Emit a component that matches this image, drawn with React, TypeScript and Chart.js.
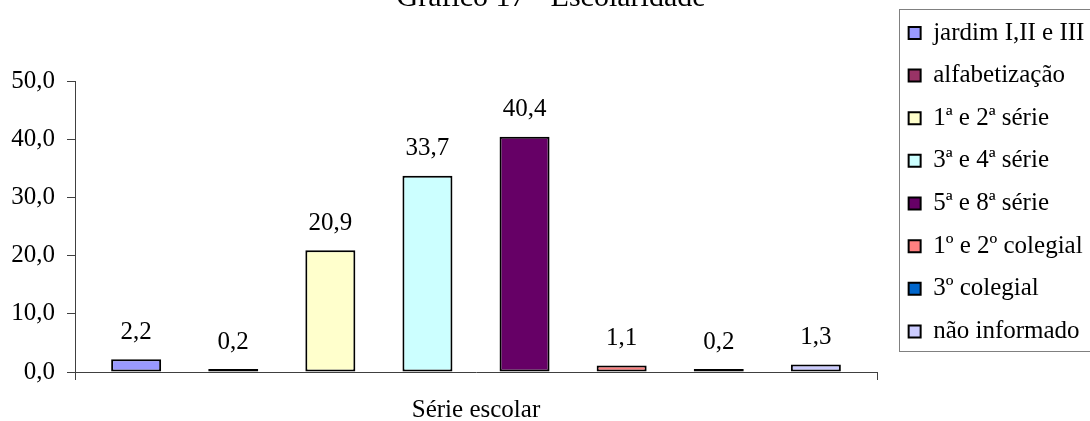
import { useEffect, useRef } from 'react';
import { Chart, registerables } from 'chart.js';

Chart.register(...registerables);

// Schooling levels (one bar per level) and their share in percent
const axisCategories = ['Série escolar'];
const levelLabels = [
  'jardim I,II e III',
  'alfabetização',
  '1ª e 2ª série',
  '3ª e 4ª série',
  '5ª e 8ª série',
  '1º e 2º colegial',
  '3º colegial',
  'não informado',
];
const levelPercent = [2.2, 0.2, 20.9, 33.7, 40.4, 1.1, 0.2, 1.3];
const levelColors = [
  '#9999FF',
  '#993366',
  '#FFFFCC',
  '#CCFFFF',
  '#660066',
  '#FF8080',
  '#0066CC',
  '#CCCCFF',
];
const yMin = 0;
const yMax = 50;
const yStep = 10;
const chartTitle = 'Gráfico 17 - Escolaridade';

const SERIF = '"Liberation Serif", "Times New Roman", serif';
const AXIS_GRAY = '#404040';
const fmt = (v: number) => v.toFixed(1).replace('.', ',');

// Puts the title and the legend where the page layout wants them
const placeBoxes = {
  id: 'placeBoxes',
  afterLayout(chart: any) {
    const t = chart.titleBlock;
    if (t) {
      t.left = 12;
      t.right = 1090;
      t.width = t.right - t.left;
    }
    const lg = chart.legend;
    if (lg) {
      lg.left = 891;
      lg.top = 22.8;
      lg.right = 1200;
      lg.bottom = 440;
      lg.width = lg.right - lg.left;
      lg.height = lg.bottom - lg.top;
    }
  },
  afterDraw(chart: any) {
    const lg = chart.legend;
    if (!lg) return;
    const ctx = chart.ctx;
    ctx.save();
    ctx.strokeStyle = '#808080';
    ctx.lineWidth = 1;
    ctx.strokeRect(Math.round(lg.left + 8) + 0.5, Math.round(lg.top + 6) + 0.5, 400, 342);
    ctx.restore();
  },
};

// Value printed above every bar
const valueLabels = {
  id: 'valueLabels',
  afterDatasetsDraw(chart: any) {
    const ctx = chart.ctx;
    ctx.save();
    ctx.font = `25px ${SERIF}`;
    ctx.fillStyle = '#000';
    ctx.textAlign = 'center';
    ctx.textBaseline = 'middle';
    chart.data.datasets.forEach((ds: any, i: number) => {
      const meta = chart.getDatasetMeta(i);
      meta.data.forEach((bar: any, j: number) => {
        const v = ds.data[j] as number;
        ctx.fillText(fmt(v), bar.x, bar.y - 27);
      });
    });
    ctx.restore();
  },
};

export default function App() {
  const ref = useRef<HTMLCanvasElement>(null);

  useEffect(() => {
    if (!ref.current) return;
    Chart.defaults.font.family = SERIF;
    Chart.defaults.color = '#000';

    const chart = new Chart(ref.current, {
      type: 'bar',
      data: {
        labels: axisCategories,
        datasets: levelLabels.map((label, i) => ({
          label,
          data: [levelPercent[i]],
          backgroundColor: levelColors[i],
          borderColor: '#000',
          borderWidth: 2,
          borderSkipped: false,
          inflateAmount: 0,
          minBarLength: 3,
          categoryPercentage: 0.9686,
          barPercentage: 0.515,
        })),
      },
      options: {
        responsive: false,
        animation: false,
        events: [],
        layout: { padding: { left: 0, top: 0, right: 33, bottom: 0 } },
        scales: {
          x: {
            type: 'category',
            offset: true,
            grid: {
              offset: true,
              drawOnChartArea: false,
              drawTicks: true,
              tickLength: 8,
              color: AXIS_GRAY,
            },
            border: { display: true, color: AXIS_GRAY, width: 1 },
            ticks: { font: { size: 25, family: SERIF }, color: '#000', padding: 15.6 },
            afterFit(scale: any) {
              scale.height = 49;
            },
          },
          y: {
            min: yMin,
            max: yMax,
            grid: {
              drawOnChartArea: false,
              drawTicks: true,
              tickLength: 8,
              color: AXIS_GRAY,
            },
            border: { display: true, color: AXIS_GRAY, width: 1 },
            ticks: {
              stepSize: yStep,
              padding: 12,
              font: { size: 25, family: SERIF },
              color: '#000',
              callback: (v: any) => fmt(Number(v)),
            },
            afterFit(scale: any) {
              scale.width = 75;
            },
          },
        },
        plugins: {
          title: {
            display: true,
            text: chartTitle,
            color: '#000',
            font: { size: 30, family: SERIF, weight: 'normal' },
            padding: { top: 0, bottom: 65 },
          },
          legend: {
            display: true,
            position: 'right',
            align: 'start',
            maxWidth: 180,
            labels: {
              boxWidth: 12,
              boxHeight: 12,
              padding: 17.64,
              color: '#000',
              font: { size: 25, family: SERIF },
            },
          },
          tooltip: { enabled: false },
        },
      },
      plugins: [placeBoxes, valueLabels],
    });

    return () => chart.destroy();
  }, []);

  return (
    <div style={{ position: 'absolute', left: 0, top: -20, width: 1090, height: 441 }}>
      <canvas ref={ref} width={1090} height={441} style={{ display: 'block' }} />
    </div>
  );
}
